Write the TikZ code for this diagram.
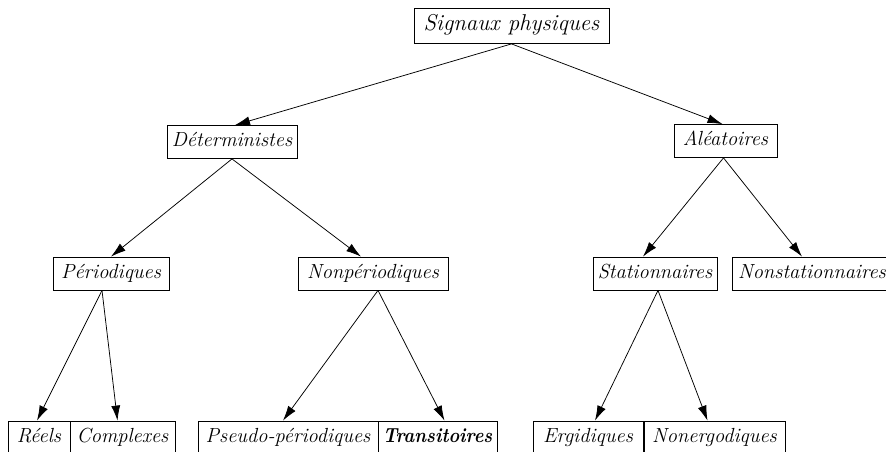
\documentclass[tikz,border=0pt]{standalone}
\usetikzlibrary{arrows.meta,calc}
\begin{document}
\begin{tikzpicture}[x=1pt,y=-1pt,
  box/.style={draw, line width=0.8pt, font=\fontsize{20.4}{24}\selectfont\itshape,
    inner xsep=0pt, inner ysep=0pt, minimum height=33pt,
    text height=14pt, text depth=4.5pt},
  arr/.style={-{Latex[length=15pt,width=9pt]}, line width=0.75pt}]
\useasboundingbox (0,0) rectangle (886,452);
\clip (0,0) rectangle (886,452);
% level 0
\node[box, minimum width=195pt, minimum height=35pt, font=\fontsize{22.9}{27}\selectfont\itshape] (sig) at (511.5,26) {Signaux physiques};
% level 1
\node[box, minimum width=130pt] (det) at (232,142) {Déterministes};
\node[box, minimum width=103pt] (ale) at (725.5,141) {Aléatoires};
% level 2
\node[box, minimum width=116pt] (per) at (111,273.5) {Périodiques};
\node[box, minimum width=150pt] (nper) at (373,273.5) {Nonpériodiques};
\node[box, minimum width=124pt] (sta) at (655,273.5) {Stationnaires};
\node[box, minimum width=160pt] (nsta) at (812,273.5) {Nonstationnaires};
% level 3
\node[box, minimum width=62pt] (ree) at (39,437.5) {Réels};
\node[box, minimum width=105pt] (com) at (122.5,437.5) {Complexes};
\node[box, minimum width=180pt] (pse) at (288,437.5) {Pseudo-périodiques};
\node[box, minimum width=119pt, font=\fontsize{20.4}{24}\selectfont\bfseries\itshape] (tra) at (437.5,437.5) {\scalebox{0.89}[1]{Transitoires}};
\node[box, minimum width=110pt] (erg) at (588,437.5) {Ergidiques};
\node[box, minimum width=141pt] (ner) at (714.5,437.5) {Nonergodiques};
% connectors
\draw[arr] (sig.south) -- ($(det.north)+(3,0)$);
\draw[arr] (sig.south) -- ($(ale.north)+(-3,0)$);
\draw[arr] (det.south) -- (per.north);
\draw[arr] (det.south) -- ($(nper.north)+(-12,0)$);
\draw[arr] ($(ale.south)+(-2,0)$) -- ($(sta.north)+(-12,0)$);
\draw[arr] ($(ale.south)+(-2,0)$) -- ($(nsta.north)+(-10,0)$);
\draw[arr] ($(per.south)+(-9,0)$) -- ($(ree.north)+(-2,0)$);
\draw[arr] ($(per.south)+(-9,0)$) -- ($(com.north)+(-5,0)$);
\draw[arr] ($(nper.south)+(5,0)$) -- ($(pse.north)+(-5,0)$);
\draw[arr] ($(nper.south)+(5,0)$) -- ($(tra.north)+(7,0)$);
\draw[arr] ($(sta.south)+(3,0)$) -- ($(erg.north)+(7,0)$);
\draw[arr] ($(sta.south)+(3,0)$) -- ($(ner.north)+(-7,0)$);
\end{tikzpicture}
\end{document}
